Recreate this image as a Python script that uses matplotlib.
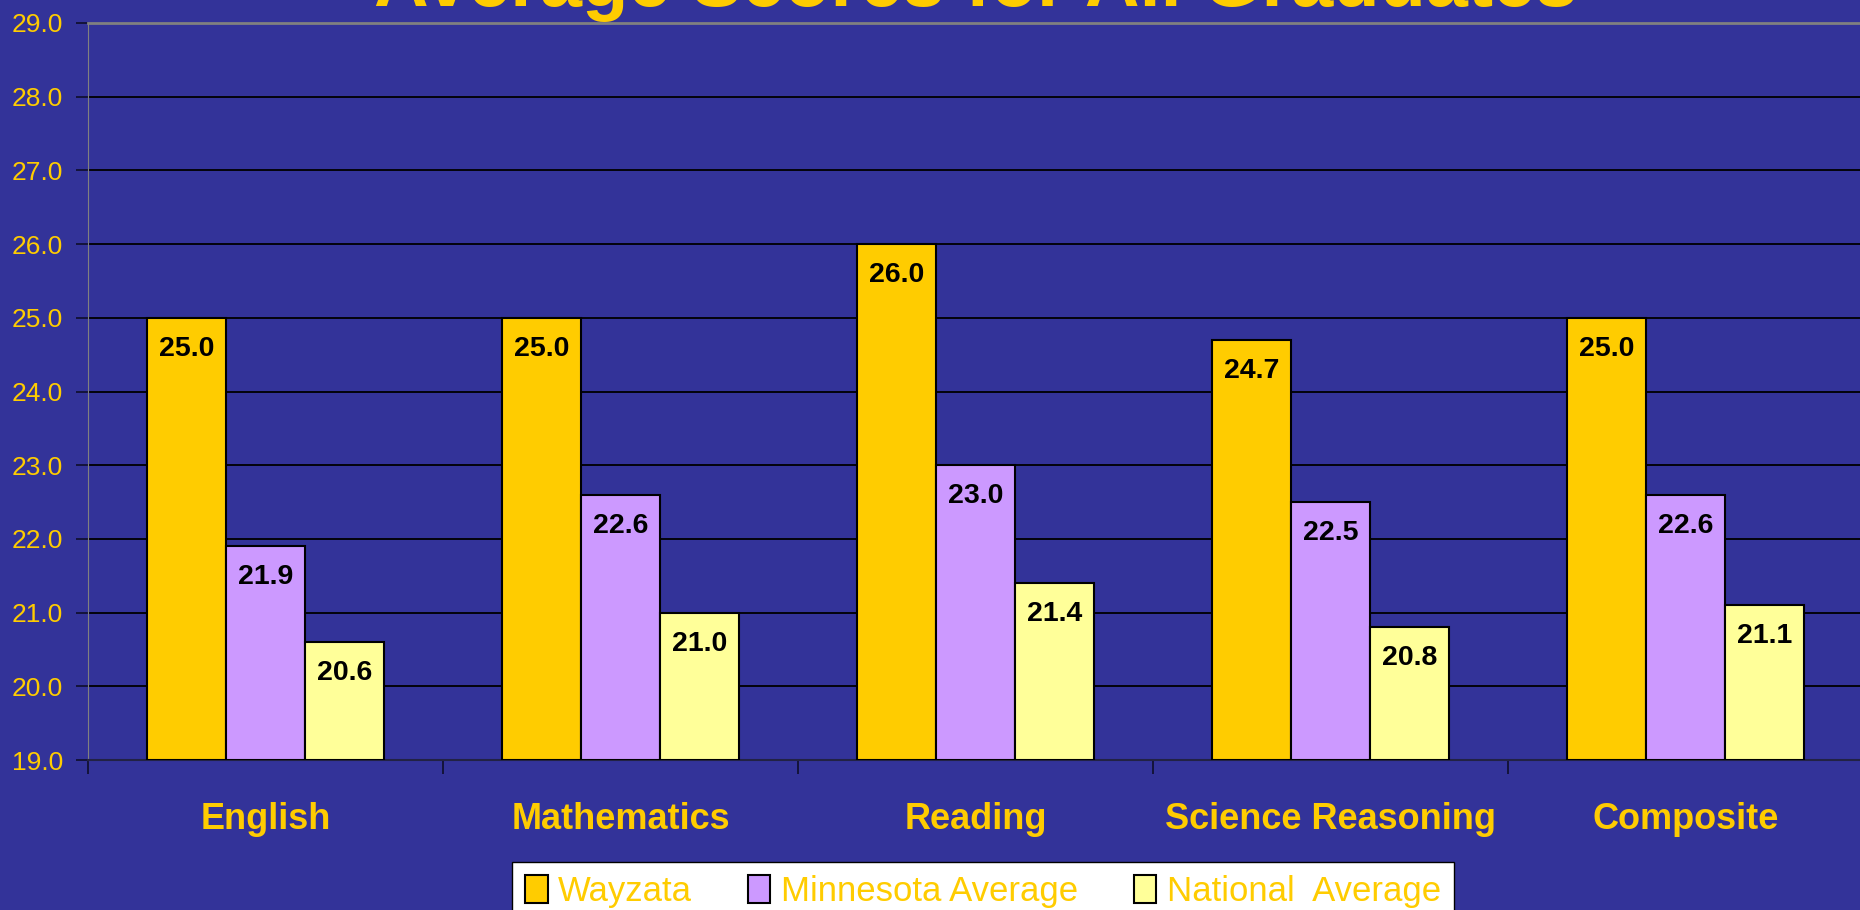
import numpy as np
import matplotlib
matplotlib.use("Agg")
import matplotlib.pyplot as plt

# chart data
subjects = ["English", "Mathematics", "Reading", "Science Reasoning", "Composite"]
wayzata = [25.0, 25.0, 26.0, 24.7, 25.0]
minnesota = [21.9, 22.6, 23.0, 22.5, 22.6]
national = [20.6, 21.0, 21.4, 20.8, 21.1]
series_names = ["Wayzata", "Minnesota Average", "National  Average"]
y_ticks = np.arange(19, 30, 1.0)

bg = "#333399"
gold = "#FFCC00"
colors = ["#FFCC00", "#CC99FF", "#FFFF99"]

plt.rcParams['font.family'] = ['Liberation Sans', 'DejaVu Sans']

fig = plt.figure(figsize=(18.6, 9.1), dpi=100, facecolor=bg)
ax = fig.add_axes([88 / 1860, 150 / 910, 1775 / 1860, 737 / 910])
ax.set_facecolor(bg)

x = np.arange(len(subjects))
w = 0.2225
for i, (vals, c, name) in enumerate(zip([wayzata, minnesota, national], colors, series_names)):
    pos = x + (i - 1) * w
    ax.bar(pos, np.array(vals) - 19, bottom=19, width=w, color=c,
           edgecolor="black", linewidth=1.5, label=name, zorder=3)
    for p, v in zip(pos, vals):
        ax.text(p, v - 0.42, f"{v:.1f}", ha="center", va="center",
                fontsize=20.5, fontweight="bold", color="black", zorder=4)

ax.set_xlim(-0.5, len(subjects) - 0.5)
ax.set_ylim(19, 29)
ax.set_yticks(y_ticks)
ax.set_yticklabels([f"{t:.1f}" for t in y_ticks])
ax.grid(axis="y", color="black", linewidth=1.3, zorder=0)
ax.set_axisbelow(True)

ax.set_xticks(x)
ax.set_xticklabels(subjects)
ax.set_xticks(np.arange(-0.5, len(subjects), 1.0), minor=True)
ax.tick_params(axis="x", which="major", length=0, pad=30, labelsize=26,
               labelcolor=gold)
for lbl in ax.get_xticklabels():
    lbl.set_fontweight("bold")
ax.tick_params(axis="x", which="minor", length=10, width=1.3, color="#111133")
ax.tick_params(axis="y", length=9, width=1.3, color="#111133", pad=9,
               labelsize=19, labelcolor=gold)

ax.spines["left"].set_color("#808080")
ax.spines["top"].set_color("#808080")
ax.spines["top"].set_linewidth(2)
ax.spines["bottom"].set_color("#222244")
ax.spines["bottom"].set_linewidth(1.5)
ax.spines["right"].set_visible(False)

fig.text((88 + 1863) / 2 / 1860, 1 - 6 / 910, "Average Scores for All Graduates",
         ha="center", va="baseline", fontsize=54.5, fontweight="bold", color=gold)

leg = fig.legend(loc="lower center", bbox_to_anchor=(983 / 1860, -0.031), ncol=3,
                 frameon=True, fancybox=False, fontsize=25, handlelength=0.65,
                 handleheight=0.85, handletextpad=0.3, columnspacing=1.6,
                 borderpad=0.37)
leg.get_frame().set_facecolor("white")
leg.get_frame().set_edgecolor("black")
leg.get_frame().set_alpha(1)
for t in leg.get_texts():
    t.set_color(gold)

fig.savefig("out.png", dpi=100, facecolor=bg)
